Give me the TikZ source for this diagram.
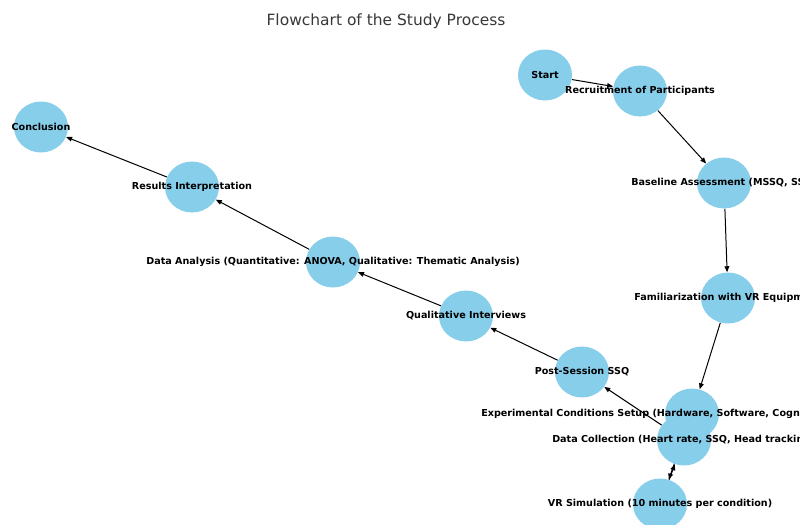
\documentclass[tikz,border=0pt]{standalone}
\usepackage{fontspec}
\setmainfont{DejaVu Sans}
\usetikzlibrary{shapes.geometric, arrows.meta, backgrounds}
\definecolor{skyblue}{HTML}{87CEEB}

\begin{document}
\begin{tikzpicture}[
    x=0.75pt, y=-0.75pt,
    station/.style={ellipse, fill=skyblue, minimum width=40.5pt, minimum height=38.25pt, inner sep=0pt},
    tag/.style={font=\bfseries\fontsize{7.2}{8}\selectfont, inner sep=0pt},
    arrow/.style={-{Triangle[length=4.5pt, width=3.5pt]}, line width=0.75pt}
]
    \useasboundingbox (0,0) rectangle (800,525);
    \clip (0,0) rectangle (800,525);
    \node[font=\fontsize{11.6}{13}\selectfont, text=black!78] (title) at (386,21) {Flowchart of the Study Process};

    \node[station] (start) at (545,75) {};
    \node[station] (recruit) at (640,91) {};
    \node[station] (baseline) at (724,183) {};
    \node[station] (familiar) at (728,298) {};
    \node[station] (setup) at (692,414) {};
    \node[station] (vrsim) at (660,504) {};
    \node[station] (collect) at (684,440) {};
    \node[station] (postssq) at (582,372) {};
    \node[station] (interviews) at (466,316) {};
    \node[station] (analysis) at (333,262) {};
    \node[station] (results) at (192,187) {};
    \node[station] (conclusion) at (41,127) {};

    \begin{pgfonlayer}{background}
        \draw[arrow] (start) -- (recruit);
        \draw[arrow] (recruit) -- (baseline);
        \draw[arrow] (baseline) -- (familiar);
        \draw[arrow] (familiar) -- (setup);
        \draw[arrow] (setup) -- (vrsim);
        \draw[arrow] (vrsim) -- (collect);
        \draw[arrow] (collect) -- (postssq);
        \draw[arrow] (postssq) -- (interviews);
        \draw[arrow] (interviews) -- (analysis);
        \draw[arrow] (analysis) -- (results);
        \draw[arrow] (results) -- (conclusion);
    \end{pgfonlayer}

    \node[tag] (start-t) at (start) {Start};
    \node[tag] (recruit-t) at (recruit) {Recruitment of Participants};
    \node[tag, anchor=west] (baseline-t) at (631,183) {Baseline Assessment (MSSQ, SSQ)};
    \node[tag, anchor=west] (familiar-t) at (634,298) {Familiarization with VR Equipment};
    \node[tag, anchor=west] (setup-t) at (481,414) {Experimental Conditions Setup (Hardware, Software, Cognitive Load)};
    \node[tag] (vrsim-t) at (vrsim) {VR Simulation (10 minutes per condition)};
    \node[tag, anchor=west] (collect-t) at (552,440) {Data Collection (Heart rate, SSQ, Head tracking)};
    \node[tag] (postssq-t) at (postssq) {Post-Session SSQ};
    \node[tag] (interviews-t) at (interviews) {Qualitative Interviews};
    \node[tag] (analysis-t) at (analysis) {Data Analysis (Quantitative: ANOVA, Qualitative: Thematic Analysis)};
    \node[tag] (results-t) at (results) {Results Interpretation};
    \node[tag] (conclusion-t) at (conclusion) {Conclusion};
\end{tikzpicture}
\end{document}
